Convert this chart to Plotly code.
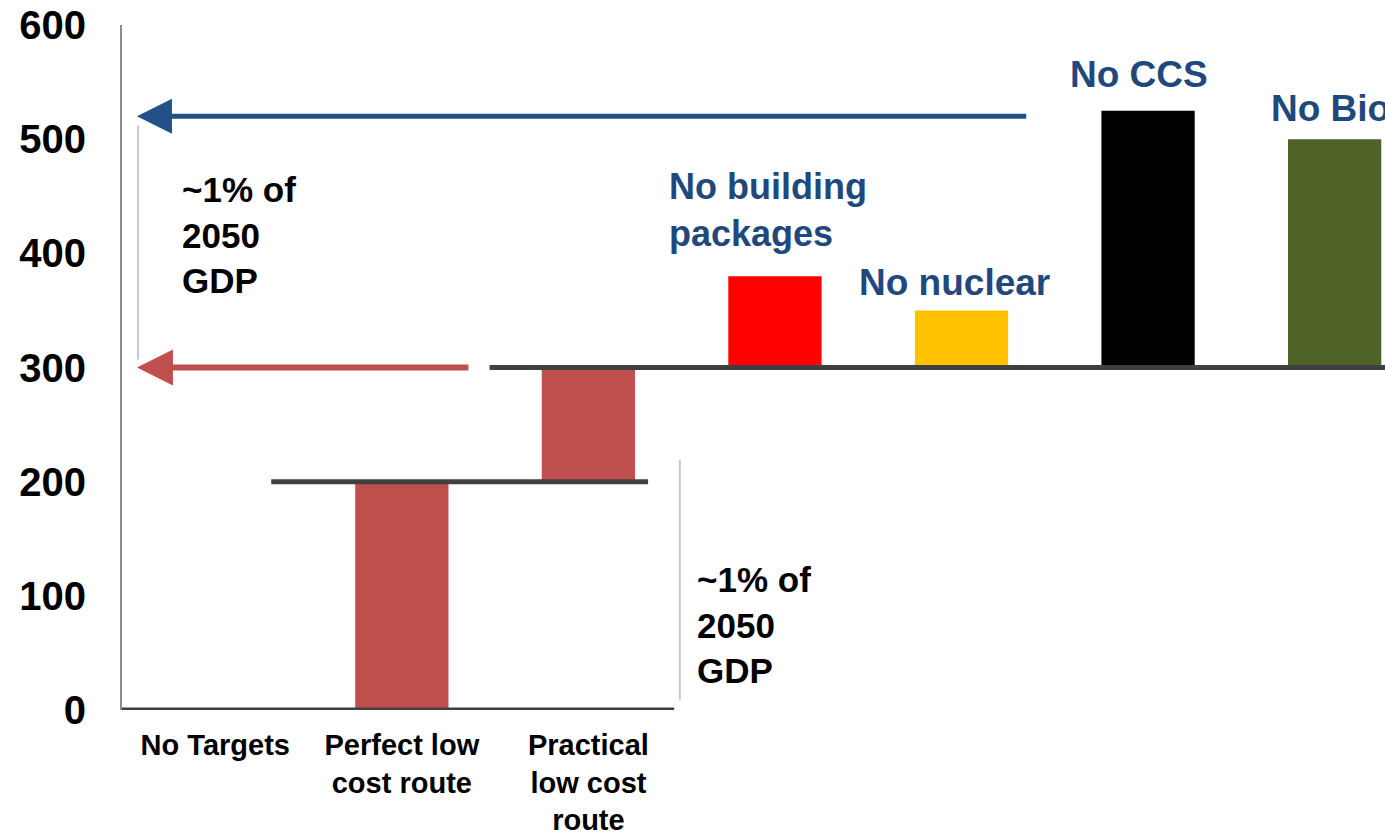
import plotly.graph_objects as go

# Scenario costs (waterfall from the no-target baseline)
categories = ["No Targets", "Perfect low cost route", "Practical low cost route",
              "No building packages", "No nuclear", "No CCS", "No Bioenergy"]
axis_labels = ["No Targets", "Perfect low<br>cost route", "Practical<br>low cost<br>route",
               "", "", "", ""]
bar_base = [0, 0, 200, 300, 300, 300, 300]
bar_top = [0, 200, 300, 380, 350, 525, 500]
bar_colors = ["#C0504D", "#C0504D", "#C0504D", "#FF0000", "#FFC000", "#000000", "#4F6228"]
practical_level = 300
ccs_level = 520

y_ticks = [0, 100, 200, 300, 400, 500, 600]

FONT = "Liberation Sans, Arial, sans-serif"
BLUE = "#1F497D"
RED = "#C0504D"
DARK = "#404040"
GRAY = "#C8C8C8"

x_idx = list(range(len(categories)))
heights = [t - b for t, b in zip(bar_top, bar_base)]

fig = go.Figure()
fig.add_trace(go.Bar(
    x=x_idx, y=heights, base=bar_base, width=0.5,
    marker=dict(color=bar_colors, line=dict(width=0)),
    hoverinfo="skip", showlegend=False,
))

# connector lines between waterfall steps
levels = [(bar_base[0], -0.5, 2.46), (bar_top[1], 0.30, 2.32), (bar_top[2], 1.47, 6.6)]
for lvl, x0, x1 in levels:
    fig.add_shape(type="line", xref="x", yref="y", x0=x0, x1=x1, y0=lvl, y1=lvl,
                  line=dict(color=DARK, width=5), layer="above")

# brackets
fig.add_shape(type="line", xref="x", yref="y", x0=-0.414, x1=-0.414, y0=307, y1=512,
              line=dict(color=GRAY, width=2))
fig.add_shape(type="line", xref="x", yref="y", x0=2.49, x1=2.49, y0=9, y1=219,
              line=dict(color=GRAY, width=2))

# arrows back to the axis
fig.add_annotation(x=-0.42, y=ccs_level, ax=4.355, ay=ccs_level, xref="x", yref="y",
                   axref="x", ayref="y", text="", showarrow=True, arrowhead=2,
                   arrowsize=1.4, arrowwidth=5, arrowcolor="#24508A")
fig.add_annotation(x=-0.42, y=practical_level, ax=1.365, ay=practical_level, xref="x", yref="y",
                   axref="x", ayref="y", text="", showarrow=True, arrowhead=2,
                   arrowsize=1.2, arrowwidth=6, arrowcolor=RED)

note = "~1% of<br>2050<br>GDP"
note_font = dict(family=FONT, size=35, color="black", weight="bold")
fig.add_annotation(x=-0.19, y=475, xref="x", yref="y", text=note, showarrow=False,
                   xanchor="left", yanchor="top", align="left", font=note_font)
fig.add_annotation(x=2.57, y=133, xref="x", yref="y", text=note, showarrow=False,
                   xanchor="left", yanchor="top", align="left", font=note_font)

# scenario labels
blue_font = dict(family=FONT, size=37, color=BLUE, weight="bold")
fig.add_annotation(x=2.42, y=398, xref="x", yref="y", text="No building<br>packages",
                   showarrow=False, xanchor="left", yanchor="bottom", align="left",
                   font=dict(family=FONT, size=36, color=BLUE, weight="bold"))
fig.add_annotation(x=3.96, y=355, xref="x", yref="y", text="No nuclear",
                   showarrow=False, xanchor="center", yanchor="bottom", font=blue_font)
fig.add_annotation(x=4.95, y=537, xref="x", yref="y", text="No CCS",
                   showarrow=False, xanchor="center", yanchor="bottom", font=blue_font)
fig.add_annotation(x=5.65, y=507, xref="x", yref="y", text="No Bioenergy",
                   showarrow=False, xanchor="left", yanchor="bottom", font=blue_font)

fig.update_layout(
    width=1385, height=833,
    margin=dict(l=122, r=0, t=25, b=123),
    paper_bgcolor="white", plot_bgcolor="white",
    font=dict(family=FONT),
    xaxis=dict(
        range=[-0.5, 6.27], tickmode="array", tickvals=x_idx, ticktext=axis_labels,
        showgrid=False, zeroline=False, showline=False, ticks="",
        ticklabelstandoff=15, automargin=False,
        tickfont=dict(family=FONT, size=29, color="black", weight="bold"),
        fixedrange=True,
    ),
    yaxis=dict(
        range=[0, 600], tickmode="array", tickvals=y_ticks,
        showgrid=False, zeroline=False, showline=True, linecolor="#8C8C8C", linewidth=2,
        ticks="", ticklabelstandoff=26, automargin=False,
        tickfont=dict(family=FONT, size=40, color="black", weight="bold"),
        fixedrange=True,
    ),
)

fig.write_html("out.html")
